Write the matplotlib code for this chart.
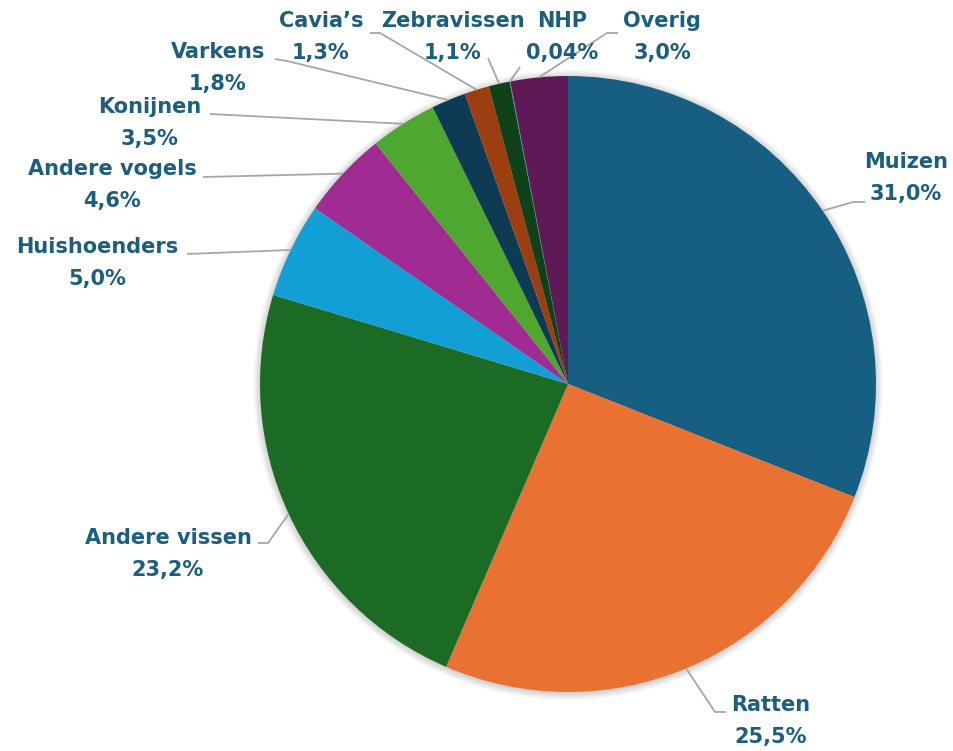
# -*- coding: utf-8 -*-
"""Taartdiagram proefdieren per diersoort."""
import numpy as np
import matplotlib
matplotlib.use("Agg")
import matplotlib.pyplot as plt
from matplotlib.patches import Circle

W, H = 954, 751
CX, CY, R = 568, 384, 308          # pie centre and radius in image pixels (y down)

LABELS = ["Muizen", "Ratten", "Andere vissen", "Huishoenders", "Andere vogels",
          "Konijnen", "Varkens", "Cavia’s", "Zebravissen", "NHP", "Overig"]
VALUES = [31.0, 25.5, 23.2, 5.0, 4.6, 3.5, 1.8, 1.3, 1.1, 0.04, 3.0]
PCT_TEXT = ["31,0%", "25,5%", "23,2%", "5,0%", "4,6%", "3,5%", "1,8%",
            "1,3%", "1,1%", "0,04%", "3,0%"]
COLORS = ["#175f82", "#e97132", "#1b6b24", "#129fd6", "#a02b93", "#4ea72e",
          "#0e3a53", "#9c3e10", "#10421a", "#4f7fa8", "#5e1a57"]

# label block centre, leader elbow, leader end (image pixels, y down)
TEXT_POS = [(906, 178), (771, 721), (168, 554), (97, 263), (112, 185),
            (150, 123), (218, 68), (321, 37), (453, 37), (562, 37), (662, 37)]
ELBOW = [(853, 202), (715, 712), (268, 543), (187, 254), (203, 177),
         (210, 114), (287, 61), (380, 33), (488, 58), (520, 67), (607, 33)]
LINE_END = [(865, 202), (726, 712), (258, 543), (187, 254), (203, 177),
            (210, 114), (275, 59), (370, 33), (488, 58), (520, 67), (618, 33)]

TEXT_COLOR = "#1b5e80"
LINE_COLOR = "#a6a6a6"


def fy(y):
    return H - y


fig = plt.figure(figsize=(W / 100, H / 100), dpi=100)
ax = fig.add_axes([0, 0, 1, 1])
fig.patch.set_facecolor("white")

# soft shadow round the pie
for k in range(1, 8):
    ax.add_patch(Circle((CX, fy(CY) - 1), R + k, facecolor="black",
                        alpha=0.025, linewidth=0, zorder=0))

wedges, _ = ax.pie(VALUES, colors=COLORS, startangle=90, counterclock=False,
                   center=(CX, fy(CY)), radius=R,
                   wedgeprops=dict(linewidth=0, zorder=1))

for i, w in enumerate(wedges):
    ang = np.deg2rad((w.theta1 + w.theta2) / 2)
    ax_, ay_ = CX + R * np.cos(ang), fy(CY) + R * np.sin(ang)
    ex, ey = ELBOW[i]
    lx, ly = LINE_END[i]
    ax.plot([ax_, ex, lx], [ay_, fy(ey), fy(ly)], color=LINE_COLOR,
            linewidth=1.3, solid_capstyle="butt", zorder=2)
    tx, ty = TEXT_POS[i]
    ax.text(tx, fy(ty), f"{LABELS[i]}\n{PCT_TEXT[i]}", ha="center", va="center",
            multialignment="center", fontsize=15, fontweight="bold",
            family=["DejaVu Sans"], color=TEXT_COLOR,
            linespacing=1.72, zorder=3)

ax.set_xlim(0, W)
ax.set_ylim(0, H)
ax.set_aspect("equal")
ax.axis("off")

fig.savefig("out.png", dpi=100, facecolor="white")
